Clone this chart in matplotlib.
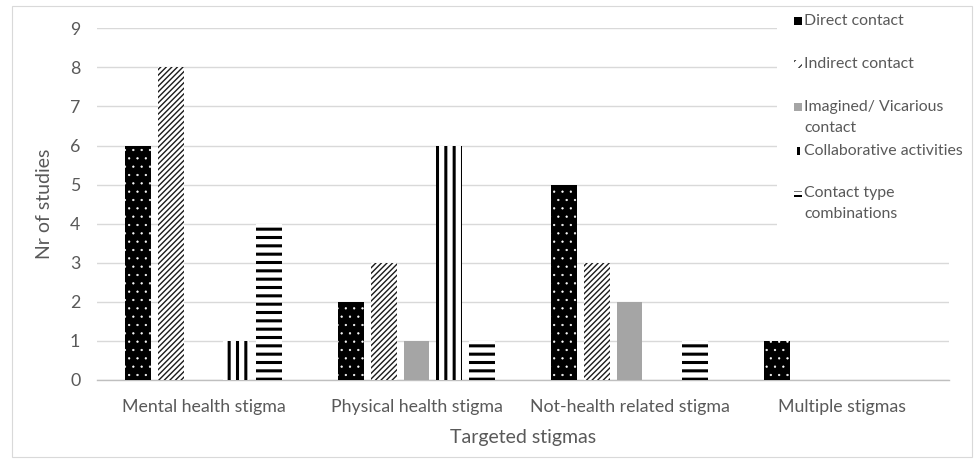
import matplotlib
matplotlib.use("Agg")
import matplotlib.pyplot as plt
from matplotlib.patches import Rectangle
import numpy as np

categories = ["Mental health stigma", "Physical health stigma",
              "Not-health related stigma", "Multiple stigmas"]
series_names = ["Direct contact", "Indirect contact", "Imagined/ Vicarious\ncontact",
                "Collaborative activities", "Contact type\ncombinations"]
direct = [6, 2, 5, 1]
indirect = [8, 3, 3, 0]
imagined = [0, 1, 2, 0]
collaborative = [1, 6, 0, 0]
combinations = [4, 1, 1, 0]
y_ticks = list(range(0, 10))

series_values = [direct, indirect, imagined, collaborative, combinations]

# fill / hatch styling per series
styles = [
    dict(facecolor="black", edgecolor="white", hatch="..", hlw=0.4),
    dict(facecolor="white", edgecolor="#1a1a1a", hatch="//////", hlw=1.0),
    dict(facecolor="#A5A5A5", edgecolor="#A5A5A5", hatch=None, hlw=1.0),
    dict(facecolor="white", edgecolor="black", hatch="||", hlw=2.2),
    dict(facecolor="white", edgecolor="black", hatch="--", hlw=2.2),
]

TEXT = "#595959"
plt.rcParams["font.family"] = ["Lato", "DejaVu Sans"]

W, H = 974, 459
fig = plt.figure(figsize=(W / 100, H / 100), dpi=100)
fig.patch.set_facecolor("white")

# outer chart border
fig.patches.append(Rectangle((12 / W, 1 - 457 / H), (972 - 12) / W, (457 - 6) / H,
                             transform=fig.transFigure, fill=False,
                             edgecolor="#D9D9D9", linewidth=0.8, zorder=0))

ax = fig.add_axes([97 / W, 1 - 380 / H, 852 / W, (380 - 28.3) / H])
ax.set_xlim(-0.5, len(categories) - 0.5)
ax.set_ylim(0, 9)

x = np.arange(len(categories))
step = 0.1526
width = 0.122
for j, (vals, st) in enumerate(zip(series_values, styles)):
    with plt.rc_context({"hatch.linewidth": st["hlw"]}):
        ax.bar(x + (j - 2) * step, vals, width=width,
               facecolor=st["facecolor"], edgecolor=st["edgecolor"],
               hatch=st["hatch"], linewidth=0, zorder=3)

ax.set_yticks(y_ticks)
ax.yaxis.grid(True, color="#D9D9D9", linewidth=1.0, zorder=0)
ax.set_axisbelow(True)
ax.tick_params(axis="both", length=0, labelsize=12.8, labelcolor=TEXT)
ax.tick_params(axis="y", pad=12)
ax.tick_params(axis="x", pad=14)
ax.set_xticks(x)
ax.set_xticklabels(categories)
for side in ["top", "right", "left"]:
    ax.spines[side].set_visible(False)
ax.spines["bottom"].set_color("#BFBFBF")
ax.spines["bottom"].set_linewidth(1.0)

ax.set_ylabel("Nr of studies", fontsize=14, color=TEXT, labelpad=12)
ax.set_xlabel("Targeted stigmas", fontsize=14, color=TEXT, labelpad=10)

# legend panel on the right, drawn over the gridlines
fig.patches.append(Rectangle((777 / W, 1 - 240 / H), (970 - 777) / W, (240 - 8) / H,
                             transform=fig.transFigure, facecolor="white",
                             edgecolor="none", zorder=1))
legend_rows = [21, 64, 107, 151, 193]
for name, st, ypix in zip(series_names, styles, legend_rows):
    with plt.rc_context({"hatch.linewidth": 0.8}):
        if st["hatch"] == "||":
            mk = Rectangle((797 / W, 1 - (ypix + 4) / H), 2.5 / W, 8 / H,
                           transform=fig.transFigure, facecolor="black",
                           edgecolor="none", zorder=2)
        elif st["hatch"] == "--":
            fig.patches.append(Rectangle((794 / W, 1 - (ypix - 1) / H), 8 / W, 1 / H,
                                         transform=fig.transFigure, facecolor="#777777",
                                         edgecolor="none", zorder=2))
            mk = Rectangle((794 / W, 1 - (ypix + 4) / H), 8 / W, 2 / H,
                           transform=fig.transFigure, facecolor="black",
                           edgecolor="none", zorder=2)
        elif st["hatch"] == "//////":
            mk = Rectangle((794 / W, 1 - (ypix + 4) / H), 8 / W, 8 / H,
                           transform=fig.transFigure, facecolor="white",
                           edgecolor="#222222", hatch="///", linewidth=0, zorder=2)
        else:
            mk = Rectangle((794 / W, 1 - (ypix + 4) / H), 8 / W, 8 / H,
                           transform=fig.transFigure, facecolor=st["facecolor"],
                           edgecolor="none", zorder=2)
        fig.patches.append(mk)
    for k, line in enumerate(name.split("\n")):
        fig.text(804 / W, 1 - (ypix + 21 * k) / H, line, ha="left", va="center",
                 fontsize=11.4, color=TEXT, zorder=2)

fig.savefig("out.png", dpi=100, facecolor="white")
